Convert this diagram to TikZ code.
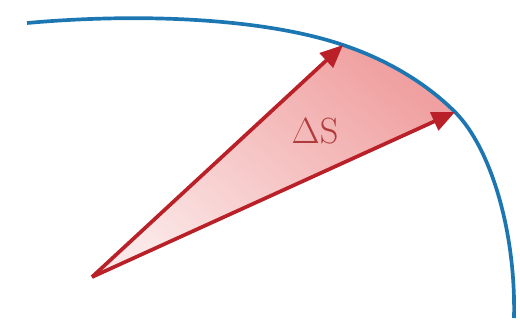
\documentclass[tikz,border=0pt]{standalone}
\usepackage{amsmath}
\usetikzlibrary{arrows.meta}
\definecolor{arcblue}{RGB}{28,118,178}
\definecolor{vecred}{RGB}{185,32,40}
\definecolor{areared}{RGB}{240,160,160}
\definecolor{labred}{RGB}{175,60,60}

\begin{document}
\begin{tikzpicture}[x=0.02cm,y=-0.02cm,>={Triangle[length=13pt,width=11pt]}]
  \useasboundingbox (0,0) rectangle (520,322);
  \coordinate (O) at (92,277);
  \coordinate (P) at (343,45);
  \coordinate (Q) at (455,112);
  % swept area
  \shade[top color=areared, bottom color=areared!25, shading angle=-40]
    (O) -- (P) .. controls (385,59) and (425,82) .. (Q) -- cycle;
  % orbit
  \draw[arcblue,line width=2.1pt] (27,23) .. controls (150,12) and (270,20) .. (P)
    .. controls (385,59) and (425,82) .. (Q)
    .. controls (490,147) and (516,230) .. (514,318);
  % radius vectors
  \draw[->,vecred,line width=2.1pt] (O) -- (P);
  \draw[->,vecred,line width=2.1pt] (O) -- (Q);
  \node[text=labred,font=\fontsize{21}{24}\selectfont] (dS) at (315,131) {$\Delta\mathrm{S}$};
\end{tikzpicture}
\end{document}
